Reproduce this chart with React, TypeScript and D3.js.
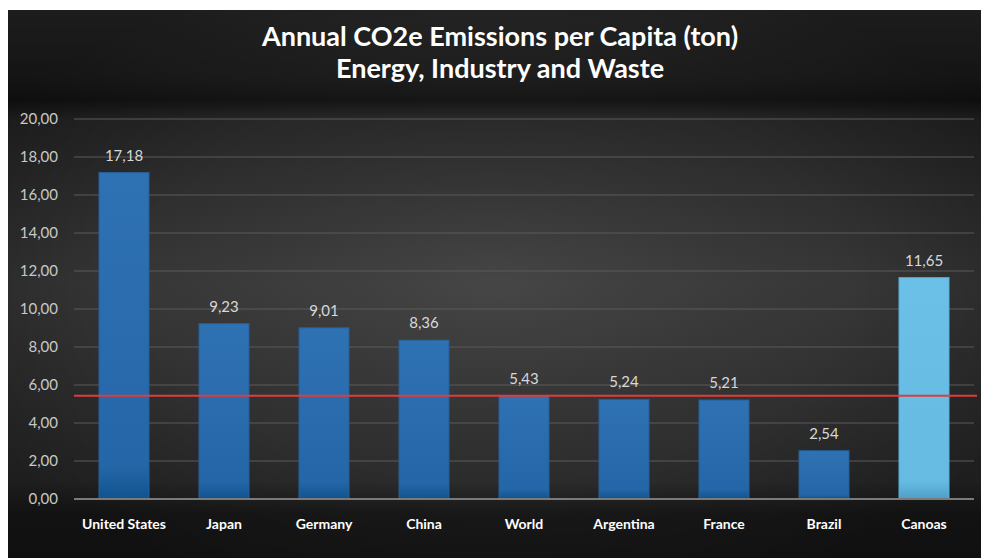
import React from "react";
import * as d3 from "d3";

const categories = ["United States", "Japan", "Germany", "China", "World", "Argentina", "France", "Brazil", "Canoas"];
const values = [17.18, 9.23, 9.01, 8.36, 5.43, 5.24, 5.21, 2.54, 11.65];
const highlighted = ["Canoas"];
const referenceValue = 5.43;
const yTicks = [0, 2, 4, 6, 8, 10, 12, 14, 16, 18, 20];
const titleLines = ["Annual CO2e Emissions per Capita (ton)", "Energy, Industry and Waste"];

const W = 981;
const H = 558;
const plot = { left: 74, right: 974, top: 119, bottom: 499 };
const FONT = "Lato, 'Open Sans', sans-serif";

const fmt = (v: number) => d3.format(".2f")(v).replace(".", ",");

export default function App() {
  const x = d3.scaleBand<string>().domain(categories).range([plot.left, plot.right]).paddingInner(0.5).paddingOuter(0.25);
  const y = d3.scaleLinear().domain([0, 20]).range([plot.bottom, plot.top]);
  const refY = y(referenceValue);

  return (
    <svg width={W} height={H} style={{ position: "fixed", left: 0, top: 0, display: "block" }}>
      <defs>
        <linearGradient id="bgV" x1="0" y1="0" x2="0" y2="1">
          <stop offset="0" stopColor="#2c2c2c" />
          <stop offset="0.12" stopColor="#202020" />
          <stop offset="0.165" stopColor="#161616" />
          <stop offset="0.2" stopColor="#2a2a2a" />
          <stop offset="0.5" stopColor="#3a3a3a" />
          <stop offset="0.86" stopColor="#2e2e2e" />
          <stop offset="0.92" stopColor="#1b1b1b" />
          <stop offset="1" stopColor="#191919" />
        </linearGradient>
        <radialGradient id="bgR" cx="0.5" cy="0.5" r="0.6">
          <stop offset="0" stopColor="#ffffff" stopOpacity="0.06" />
          <stop offset="0.6" stopColor="#000000" stopOpacity="0.05" />
          <stop offset="1" stopColor="#000000" stopOpacity="0.35" />
        </radialGradient>
        <linearGradient id="barBlue" x1="0" y1="0" x2="0" y2="1">
          <stop offset="0" stopColor="#2f72b4" />
          <stop offset="0.9" stopColor="#2566a8" />
          <stop offset="1" stopColor="#11538f" />
        </linearGradient>
        <linearGradient id="barLight" x1="0" y1="0" x2="0" y2="1">
          <stop offset="0" stopColor="#6bc0e7" />
          <stop offset="0.92" stopColor="#66bbe3" />
          <stop offset="1" stopColor="#4f9fc7" />
        </linearGradient>
      </defs>
      <rect x={0} y={0} width={W} height={H} fill="#ffffff" />
      <rect x={8} y={10} width={W - 8} height={H - 10} fill="url(#bgV)" />
      <rect x={8} y={10} width={W - 8} height={H - 10} fill="url(#bgR)" />

      {titleLines.map((t, i) => (
        <text key={t} x={500} y={46 + i * 32} textAnchor="middle" fill="#ffffff" fontFamily={FONT} fontWeight={700} fontSize={27}>
          {t}
        </text>
      ))}

      {yTicks.map((t) => (
        <g key={t}>
          {t > 0 && <line x1={plot.left} x2={plot.right} y1={y(t)} y2={y(t)} stroke="#5a5a5a" strokeWidth={1} />}
          <text x={58} y={y(t) + 5} textAnchor="end" fill="#c8c8c8" fontFamily={FONT} fontSize={15}>
            {fmt(t)}
          </text>
        </g>
      ))}

      {categories.map((c, i) => {
        const v = values[i];
        const bx = x(c)!;
        const bw = x.bandwidth();
        const top = y(v);
        const light = highlighted.includes(c);
        return (
          <g key={c}>
            <rect x={bx} y={top} width={bw} height={plot.bottom - top} fill={light ? "url(#barLight)" : "url(#barBlue)"} stroke={light ? "#5aaed6" : "#245f9c"} strokeWidth={1} />
            <text x={bx + bw / 2} y={top - 12} textAnchor="middle" fill="#d8d8d8" fontFamily={FONT} fontSize={15}>
              {fmt(v)}
            </text>
            <text x={bx + bw / 2} y={529} textAnchor="middle" fill="#ffffff" fontFamily={FONT} fontWeight={700} fontSize={14}>
              {c}
            </text>
          </g>
        );
      })}

      <line x1={plot.left} x2={plot.right} y1={plot.bottom} y2={plot.bottom} stroke="#7a7a7a" strokeWidth={2} />
      <line x1={plot.left} x2={977} y1={refY} y2={refY} stroke="#e23b3b" strokeWidth={2} />
    </svg>
  );
}
